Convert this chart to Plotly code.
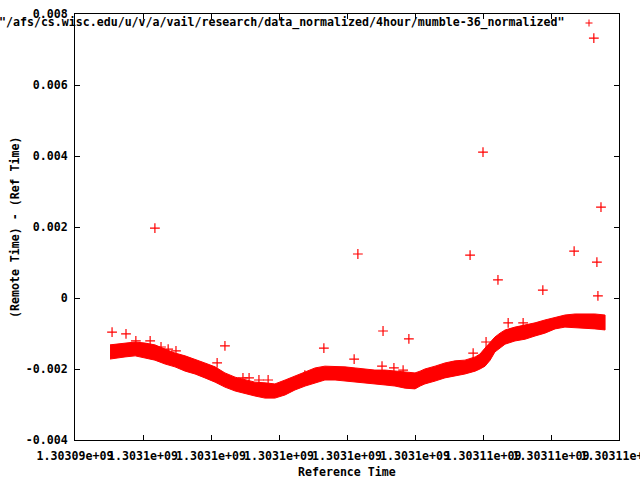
import plotly.graph_objects as go

# ---- data ----
band_time = [1303095030, 1303095180, 1303095470, 1303095770, 1303096060, 1303096350,
             1303096650, 1303096940, 1303097240, 1303097530, 1303097820, 1303098120,
             1303098410, 1303098710, 1303099000, 1303099290, 1303099590, 1303099880,
             1303100180, 1303100470, 1303100770, 1303101060, 1303101350, 1303101650,
             1303101940, 1303102240, 1303102530, 1303102820, 1303103120, 1303103410,
             1303103710, 1303104000, 1303104150, 1303104290, 1303104590, 1303104880,
             1303105180, 1303105470, 1303105770, 1303105910, 1303106060, 1303106210,
             1303106350, 1303106500, 1303106650, 1303106940, 1303107240, 1303107530,
             1303107820, 1303108120, 1303108410, 1303108710, 1303109000, 1303109290,
             1303109590]
band_upper = [-0.00132, -0.00130, -0.00127, -0.00124, -0.00127, -0.00132, -0.00144, -0.00155,
              -0.00163, -0.00172, -0.00183, -0.00194, -0.00211, -0.00223, -0.00231, -0.00237,
              -0.00239, -0.00242, -0.00231, -0.00220, -0.00208, -0.00197, -0.00192, -0.00192,
              -0.00194, -0.00197, -0.00200, -0.00203, -0.00203, -0.00206, -0.00208, -0.00211,
              -0.00206, -0.00200, -0.00192, -0.00183, -0.00177, -0.00175, -0.00166, -0.00158,
              -0.00141, -0.00124, -0.00110, -0.00099, -0.00090, -0.00082, -0.00076, -0.00070,
              -0.00062, -0.00054, -0.00048, -0.00045, -0.00045, -0.00045, -0.00048]
band_lower = [-0.00172, -0.00169, -0.00166, -0.00163, -0.00169, -0.00175, -0.00186, -0.00194,
              -0.00206, -0.00214, -0.00225, -0.00237, -0.00251, -0.00262, -0.00270, -0.00276,
              -0.00282, -0.00282, -0.00273, -0.00259, -0.00248, -0.00239, -0.00231, -0.00231,
              -0.00234, -0.00237, -0.00239, -0.00242, -0.00245, -0.00248, -0.00254, -0.00256,
              -0.00248, -0.00242, -0.00234, -0.00225, -0.00220, -0.00214, -0.00206, -0.00200,
              -0.00192, -0.00175, -0.00152, -0.00141, -0.00130, -0.00121, -0.00116, -0.00107,
              -0.00099, -0.00087, -0.00082, -0.00082, -0.00085, -0.00087, -0.00090]

outlier_time = [1303095090, 1303095500, 1303095790, 1303096210, 1303096350, 1303096530,
                1303096740, 1303096970, 1303098180, 1303098410, 1303098940, 1303099120,
                1303099410, 1303099680, 1303100760, 1303101320, 1303102210, 1303102320,
                1303103060, 1303103820, 1303103030, 1303103380, 1303103650, 1303105620,
                1303105710, 1303106000, 1303106090, 1303106440, 1303106740, 1303107180,
                1303107760, 1303108680, 1303109260, 1303109350, 1303109380, 1303109470]
outlier_value = [-0.00096, -0.00101, -0.00121, -0.00121, 0.00197, -0.00138,
                 -0.00144, -0.00149, -0.00183, -0.00135, -0.00225, -0.00225,
                 -0.00231, -0.00231, -0.00217, -0.00141, -0.00172, 0.00124,
                 -0.00093, -0.00115, -0.00192, -0.00197, -0.00203, 0.00121,
                 -0.00155, 0.00411, -0.00124, 0.00051, -0.00070, -0.00070,
                 0.00022, 0.00132, 0.00732, 0.00101, 0.00006, 0.00256]

x_tickvals = [1303094000, 1303096000, 1303098000, 1303100000, 1303102000,
              1303104000, 1303106000, 1303108000, 1303110000]
x_ticktext = ["1.30309e+09", "1.3031e+09", "1.3031e+09", "1.3031e+09", "1.3031e+09",
              "1.3031e+09", "1.30311e+09", "1.30311e+09", "1.30311e+09"]
y_tickvals = [-0.004, -0.002, 0, 0.002, 0.004, 0.006, 0.008]
y_ticktext = ["-0.004", "-0.002", "0", "0.002", "0.004", "0.006", "0.008"]

series_name = '"/afs/cs.wisc.edu/u/v/a/vail/research/data_normalized/4hour/mumble-36_normalized"'

RED = "#ff0000"
FONT = dict(family="DejaVu Sans Mono", size=11.6, color="black", weight="bold")

fig = go.Figure()
fig.add_trace(go.Scatter(
    x=band_time + band_time[::-1],
    y=band_upper + band_lower[::-1],
    fill="toself", fillcolor=RED, mode="lines",
    line=dict(color=RED, width=1), hoverinfo="skip", showlegend=False))
fig.add_trace(go.Scatter(
    x=outlier_time, y=outlier_value, mode="markers",
    marker=dict(symbol="cross-thin", size=7, line=dict(color=RED, width=1.2)),
    showlegend=False))

L, R, T, B = 75, 21, 14, 40
pw, ph = 640 - L - R, 480 - T - B

fig.update_layout(
    width=640, height=480,
    margin=dict(l=L, r=R, t=T, b=B, pad=0, autoexpand=False),
    paper_bgcolor="white", plot_bgcolor="white",
    font=FONT, showlegend=False,
    xaxis=dict(range=[1303094000, 1303110000], tickvals=x_tickvals, ticktext=x_ticktext,
               tickangle=0, ticks="inside", ticklen=5, tickcolor="black", automargin=False,
               showline=True, linecolor="black", linewidth=1, mirror="allticks",
               showgrid=False, zeroline=False, tickfont=FONT, ticklabelstandoff=5,
               ticklabeloverflow="allow"),
    yaxis=dict(range=[-0.004, 0.008], tickvals=y_tickvals, ticktext=y_ticktext,
               ticks="inside", ticklen=5, tickcolor="black", automargin=False,
               showline=True, linecolor="black", linewidth=1, mirror="allticks",
               showgrid=False, zeroline=False, tickfont=FONT, ticklabelstandoff=4,
               ticklabeloverflow="allow"),
)

def px_x(p):
    return (p - L) / pw

def px_y(p):
    return (480 - B - p) / ph

fig.add_annotation(text="Reference Time", xref="paper", yref="paper",
                   x=px_x(347), y=px_y(472), showarrow=False, font=FONT,
                   xanchor="center", yanchor="middle")
fig.add_annotation(text="(Remote Time) - (Ref Time)", xref="paper", yref="paper",
                   x=px_x(15), y=px_y(228), showarrow=False, font=FONT, textangle=-90,
                   xanchor="center", yanchor="middle")
fig.add_annotation(text=series_name, xref="paper", yref="paper",
                   x=px_x(566), y=px_y(23), showarrow=False, font=FONT,
                   xanchor="right", yanchor="middle")
# key sample "+"
fig.add_shape(type="line", xref="paper", yref="paper",
              x0=px_x(585.5), x1=px_x(592.5), y0=px_y(23), y1=px_y(23),
              line=dict(color=RED, width=1))
fig.add_shape(type="line", xref="paper", yref="paper",
              x0=px_x(589), x1=px_x(589), y0=px_y(19.5), y1=px_y(26.5),
              line=dict(color=RED, width=1))

fig.write_html("out.html", config={"displayModeBar": False},
               post_script="document.body.style.margin='0';document.body.style.overflow='hidden';")
